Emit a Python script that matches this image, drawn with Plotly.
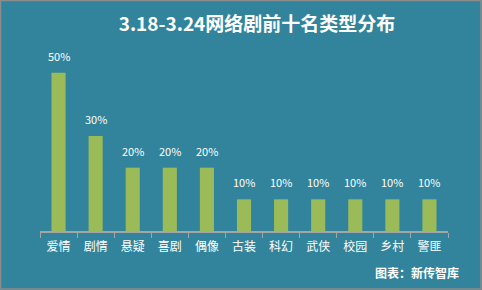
import plotly.graph_objects as go

categories = ["爱情", "剧情", "悬疑", "喜剧", "偶像", "古装", "科幻", "武侠", "校园", "乡村", "警匪"]
values = [50, 30, 20, 20, 20, 10, 10, 10, 10, 10, 10]
labels = [f"{v}%" for v in values]

W, H = 482, 290
ML, MR, MT, MB = 40, 34, 41, 59
PW, PH = W - ML - MR, H - MT - MB

teal = "#31849B"
font = "Noto Sans CJK SC, Microsoft YaHei, sans-serif"

fig = go.Figure(go.Bar(
    x=categories, y=values, marker=dict(color="#9BBB59", line=dict(width=0)),
    hoverinfo="skip",
))

for c, v, t in zip(categories, values, labels):
    fig.add_annotation(x=c, y=v, text=t, showarrow=False, yanchor="bottom", yshift=7,
                       font=dict(color="white", size=11, family=font))

def px_x(p):
    return (p - ML) / PW

def px_y(p):
    return (H - MB - p) / PH

fig.add_shape(type="rect", xref="paper", yref="paper",
              x0=px_x(0.5), x1=px_x(481), y0=px_y(0.5), y1=px_y(289),
              line=dict(color="#8C8C8C", width=1.5), layer="below")

fig.add_annotation(xref="paper", yref="paper", x=px_x(461), y=px_y(272),
                   xanchor="right", yanchor="middle", showarrow=False,
                   text="<b>图表：新传智库</b>",
                   font=dict(color="white", size=12, family=font))

fig.update_layout(
    width=W, height=H,
    margin=dict(l=ML, r=MR, t=MT, b=MB, pad=0),
    paper_bgcolor=teal, plot_bgcolor=teal,
    bargap=0.62,
    showlegend=False,
    title=dict(text="<b>3.18-3.24网络剧前十名类型分布</b>", x=257 / W, xanchor="center",
               y=1 - 24 / H, yanchor="middle",
               font=dict(color="white", size=19, family=font)),
    xaxis=dict(showline=True, linecolor="#A6A6A6", linewidth=1.5,
               ticks="outside", tickson="boundaries", ticklen=5, tickcolor="#A6A6A6",
               ticklabelstandoff=4,
               tickfont=dict(color="white", size=12, family=font),
               showgrid=False, zeroline=False, fixedrange=True),
    yaxis=dict(range=[0, 60], visible=False, showgrid=False, zeroline=False, fixedrange=True),
)

fig.write_html("out.html", config={"displayModeBar": False})
